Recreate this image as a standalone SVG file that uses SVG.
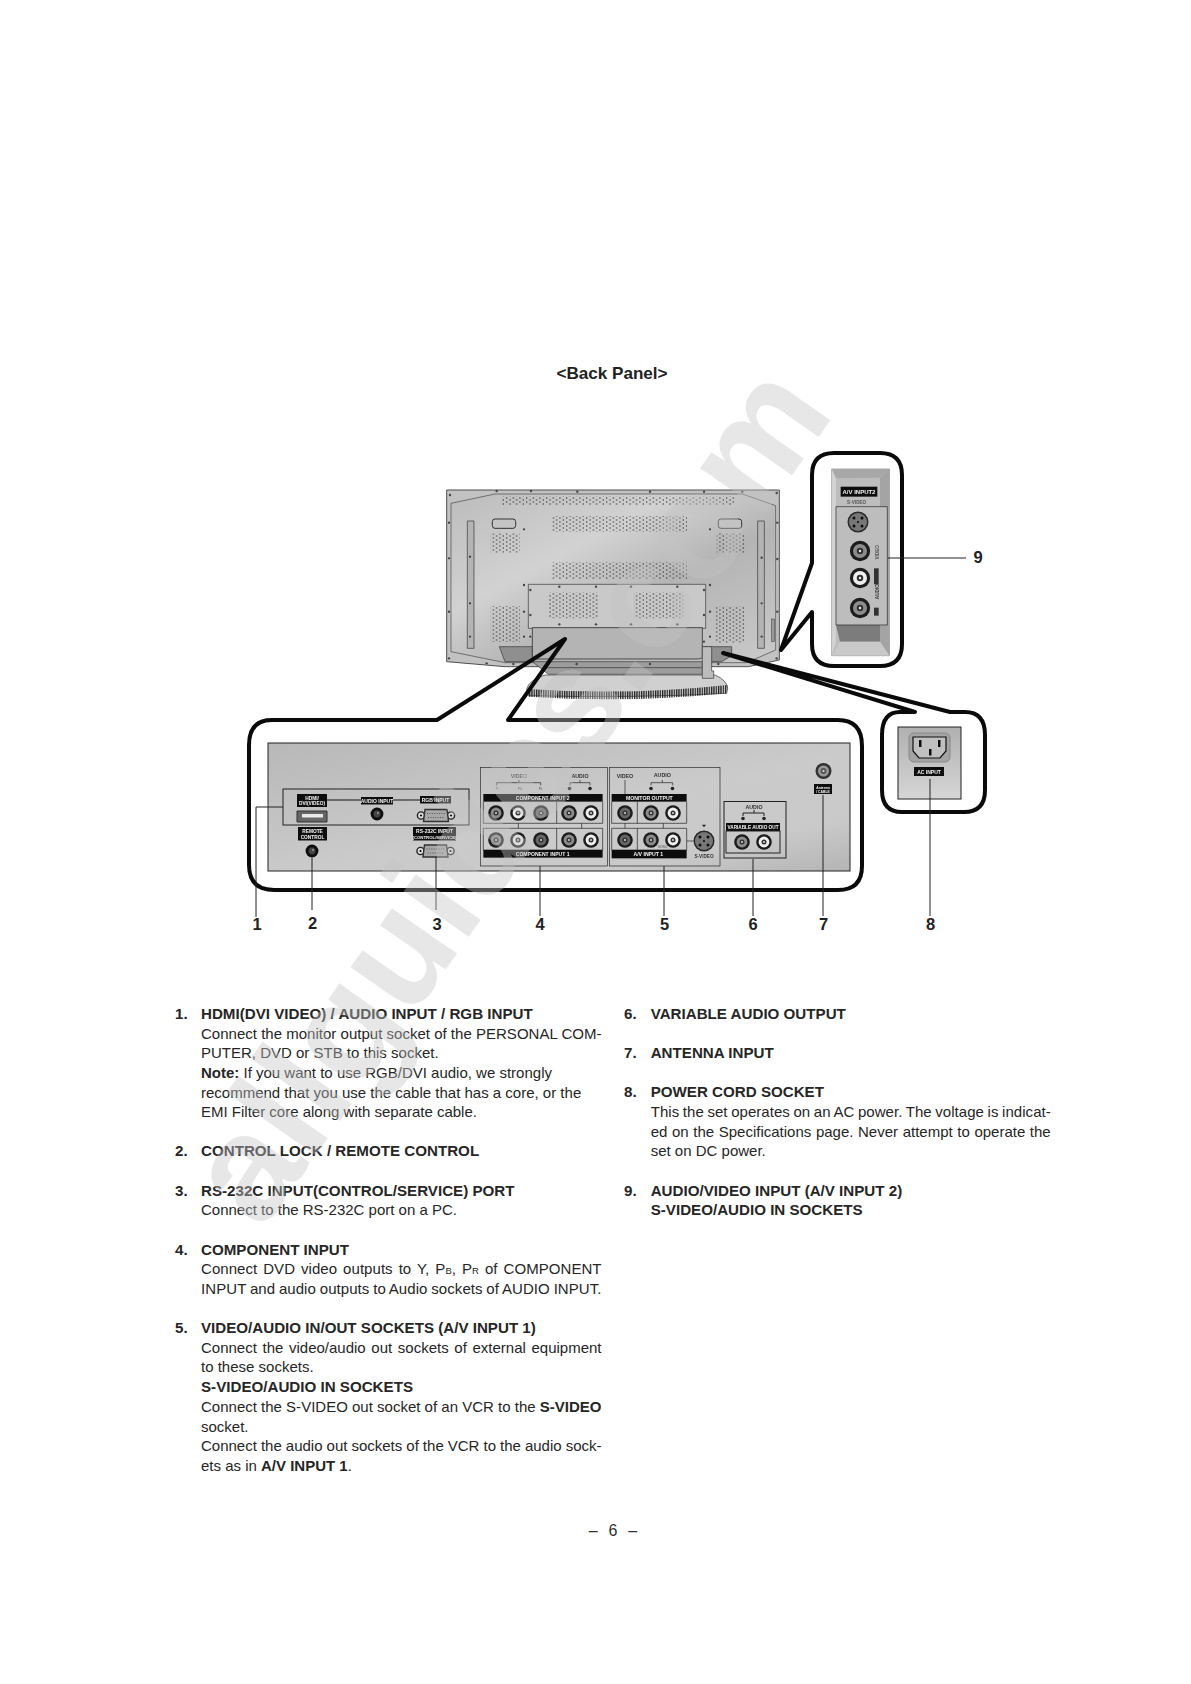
<svg xmlns="http://www.w3.org/2000/svg" width="1191" height="1684" viewBox="0 0 1191 1684">
<style>
text{font-family:"Liberation Sans",Arial,sans-serif}
.t{font-size:15px;fill:#262626}
.h{font-size:15.15px;font-weight:700;fill:#262626}
.bd{font-weight:700}
.sm{font-size:9.5px}
.num{font-size:16.5px;font-weight:700;fill:#222;text-anchor:middle}
.lb{fill:#111}
.w{fill:#f2f2f2;font-weight:700;text-anchor:middle}
.k{fill:#333;text-anchor:middle;font-weight:700}
.g{fill:#777;text-anchor:middle;font-weight:700}
.ln{fill:none;stroke:#222;stroke-width:1}
.lf{fill:none;stroke:#111;stroke-width:1.2}
.thin{fill:none;stroke:#222;stroke-width:2}
.co{fill:none;stroke:#0a0a0a;stroke-width:4;stroke-linejoin:round}
.c1{color:#8c8c8c}.c2{color:#efefef}.c3{color:#666}
.bolt{fill:#444}
.soft{filter:url(#soft)}
</style>
<defs>
<filter id="soft" x="-5%" y="-5%" width="110%" height="110%"><feGaussianBlur stdDeviation=".35"/></filter>
<linearGradient id="panelG" x1="0" y1="0" x2="1" y2="1"><stop offset="0" stop-color="#b8b8b8"/><stop offset=".55" stop-color="#cbcbcb"/><stop offset=".8" stop-color="#c9c9c9"/><stop offset="1" stop-color="#b4b4b4"/></linearGradient>
<linearGradient id="tvG" x1="0" y1="0" x2="1" y2="1"><stop offset="0" stop-color="#bcbcbc"/><stop offset=".35" stop-color="#d2d2d2"/><stop offset=".6" stop-color="#b4b4b4"/><stop offset="1" stop-color="#cacaca"/></linearGradient>
<linearGradient id="acG" x1="0" y1="0" x2="0" y2="1"><stop offset="0" stop-color="#b0b0b0"/><stop offset="1" stop-color="#d6d6d6"/></linearGradient>
<pattern id="grille" patternUnits="userSpaceOnUse" width="20" height="12"><circle cx="5" cy="3" r="2.1" fill="#333"/><circle cx="15" cy="9" r="2.1" fill="#333"/></pattern>
<pattern id="stripes" patternUnits="userSpaceOnUse" width="7" height="40"><rect width="3.8" height="40" fill="#222"/></pattern>
<g id="jack"><circle r="7.8" fill="#1c1c1c"/><circle r="5.4" fill="currentColor"/><circle r="2.5" fill="#333"/><circle r=".9" fill="#eee"/></g>
<g id="svid"><circle r="10.5" fill="#2a2a2a"/><circle r="9" fill="#777"/><circle cx="-4" cy="-4" r="1.5" fill="#111"/><circle cx="4" cy="-4" r="1.5" fill="#111"/><circle cx="-4" cy="4" r="1.5" fill="#111"/><circle cx="4" cy="4" r="1.5" fill="#111"/><rect x="-1" y="-1" width="2" height="2" fill="#222"/></g>
<g id="dsub"><circle cx="-15" r="3.6" fill="#ddd" stroke="#222" stroke-width="1.4"/><circle cx="15" r="3.6" fill="#ddd" stroke="#222" stroke-width="1.4"/><circle cx="-15" r="1.1" fill="#111"/><circle cx="15" r="1.1" fill="#111"/><path d="M-11-6H11L12.500 6H-12.500Z" fill="#a8a8a8" stroke="#333" stroke-width="1.4"/><path d="M-9-2H9M-8 2H8" stroke="#555" stroke-width="1.2" stroke-dasharray="1 1.4"/></g>
<g id="mini"><circle r="6.4" fill="#111"/><circle r="3.400" fill="#444"/><circle r="1" cx="1" cy="-1" fill="#999"/></g>
<g id="lr"><circle r="1.800" fill="#222"/></g>
</defs>
<rect width="1191" height="1684" fill="#fff"/>

<text id="title" x="612" y="379" font-size="17.1" font-weight="700" fill="#222" text-anchor="middle">&lt;Back Panel&gt;</text>

<g id="tv" class="soft" transform="translate(445 485) scale(.33333)">
<path d="M245 612Q252 585 300 570H810Q845 585 848 610L845 625Q560 640 250 632Z" fill="#d0d0d0" stroke="#333" stroke-width="2"/>
<path d="M248 612Q550 632 848 600L845 625Q550 655 252 635Z" fill="url(#stripes)"/>
<path d="M5 15H1003V525L910 545H180L5 530Z" fill="#c2c2c2" stroke="#333" stroke-width="2.500"/>
<path d="M18 55L150 27H892L992 62V495L905 533H180L18 500Z" fill="url(#tvG)" stroke="#444" stroke-width="2"/>
<rect x="168" y="35" width="700" height="25" fill="url(#grille)"/>
<rect x="322" y="93" width="404" height="47" fill="url(#grille)"/>
<rect x="322" y="232" width="404" height="50" fill="url(#grille)"/>
<rect x="137" y="145" width="87" height="58" fill="url(#grille)"/>
<rect x="815" y="145" width="85" height="58" fill="url(#grille)"/>
<rect x="137" y="363" width="88" height="108" fill="url(#grille)"/>
<rect x="812" y="365" width="87" height="108" fill="url(#grille)"/>
<rect x="142" y="102" width="70" height="28" rx="8" fill="#c4c4c4" stroke="#333" stroke-width="3"/>
<rect x="820" y="102" width="70" height="28" rx="8" fill="#c4c4c4" stroke="#333" stroke-width="3"/>
<path d="M67 108H87V490H67Z" fill="#b4b4b4" stroke="#333" stroke-width="2"/>
<path d="M938 108H958V490H938Z" fill="#b4b4b4" stroke="#333" stroke-width="2"/>
<path d="M250 298H782V430H250Z" fill="#c9c9c9" stroke="#333" stroke-width="2"/>
<rect x="310" y="323" width="150" height="77" fill="url(#grille)"/>
<rect x="567" y="323" width="148" height="77" fill="url(#grille)"/>
<path d="M163 485H262V530H180Z" fill="#8f8f8f" stroke="#333" stroke-width="2"/>
<path d="M770 485H860V512L830 530H780Z" fill="#8f8f8f" stroke="#333" stroke-width="2"/>
<path d="M262 428H772V516Q772 522 760 522H270Q262 520 262 510Z" fill="#b4b4b4" stroke="#333" stroke-width="2.500"/>
<path d="M262 530H772V568H310Z" fill="#9c9c9c" stroke="#333" stroke-width="2"/>
<path d="M300 548H770" stroke="#333" stroke-width="2"/>
<path d="M772 485H800V558H806V580H772V556Z" fill="#bcbcbc" stroke="#333" stroke-width="2"/>
<rect x="980" y="402" width="8" height="68" fill="#999" stroke="#333" stroke-width="1.500"/>
<g class="bolt"><circle cx="15" cy="30" r="3.500"/><circle cx="155" cy="18" r="3.500"/><circle cx="258" cy="18" r="3.500"/><circle cx="397" cy="20" r="3.500"/><circle cx="615" cy="20" r="3.500"/><circle cx="777" cy="20" r="3.500"/><circle cx="892" cy="20" r="3.500"/><circle cx="995" cy="24" r="3.500"/><circle cx="12" cy="113" r="3.500"/><circle cx="12" cy="220" r="3.500"/><circle cx="12" cy="380" r="3.500"/><circle cx="12" cy="520" r="3.500"/><circle cx="997" cy="113" r="3.500"/><circle cx="997" cy="222" r="3.500"/><circle cx="997" cy="380" r="3.500"/><circle cx="995" cy="520" r="3.500"/><circle cx="125" cy="535" r="3.500"/><circle cx="205" cy="537" r="3.500"/><circle cx="395" cy="537" r="3.500"/><circle cx="615" cy="537" r="3.500"/><circle cx="820" cy="537" r="3.500"/><circle cx="343" cy="305" r="3.500"/><circle cx="453" cy="305" r="3.500"/><circle cx="558" cy="305" r="3.500"/><circle cx="697" cy="305" r="3.500"/><circle cx="343" cy="418" r="3.500"/><circle cx="453" cy="418" r="3.500"/><circle cx="558" cy="418" r="3.500"/><circle cx="697" cy="418" r="3.500"/><circle cx="256" cy="315" r="3.500"/><circle cx="256" cy="390" r="3.500"/><circle cx="256" cy="455" r="3.500"/><circle cx="777" cy="315" r="3.500"/><circle cx="777" cy="390" r="3.500"/><circle cx="777" cy="470" r="3.500"/><circle cx="237" cy="300" r="3.500"/><circle cx="237" cy="380" r="3.500"/><circle cx="237" cy="455" r="3.500"/><circle cx="795" cy="300" r="3.500"/><circle cx="795" cy="380" r="3.500"/><circle cx="795" cy="455" r="3.500"/><circle cx="237" cy="133" r="3.500"/><circle cx="795" cy="133" r="3.500"/><circle cx="75" cy="215" r="3.500"/><circle cx="75" cy="355" r="3.500"/><circle cx="75" cy="455" r="3.500"/><circle cx="950" cy="218" r="3.500"/><circle cx="950" cy="355" r="3.500"/><circle cx="950" cy="455" r="3.500"/></g>
</g>

<g id="back-strip">
<rect x="268" y="743" width="582" height="128" fill="url(#panelG)" stroke="#222" stroke-width="1"/>
</g>

<g id="node-1-pc-inputs" class="soft">
<rect x="283" y="789" width="186" height="36" class="ln"/>
<rect x="297" y="794" width="30" height="13" class="lb"/>
<text x="312" y="799.500" class="w" font-size="4.800">HDMI/</text>
<text x="312" y="805" class="w" font-size="4.800">DVI(VIDEO)</text>
<path d="M327 800H361M393 800H420" class="lf"/>
<rect x="361" y="797" width="32" height="7.500" class="lb"/>
<text x="377" y="802.700" class="w" font-size="5">AUDIO INPUT</text>
<rect x="420" y="796" width="31" height="7.500" class="lb"/>
<text x="435.500" y="801.700" class="w" font-size="5">RGB INPUT</text>
<path d="M297 811H327V822H297Z" fill="#666" stroke="#333"/>
<rect x="302" y="814" width="21" height="3.500" fill="#e8e8e8"/>
<use href="#mini" x="377" y="814"/>
<use href="#dsub" x="436" y="815.500"/>
</g>

<g id="node-2-remote" class="soft">
<rect x="298" y="827" width="29" height="13.500" class="lb"/>
<text x="312.500" y="832.500" class="w" font-size="4.800">REMOTE</text>
<text x="312.500" y="838.500" class="w" font-size="4.800">CONTROL</text>
<use href="#mini" x="312" y="851"/>
</g>

<g id="node-3-rs232" class="soft">
<rect x="413" y="827" width="43" height="13.500" class="lb"/>
<text x="434.500" y="832.700" class="w" font-size="5">RS-232C INPUT</text>
<text x="434.500" y="838.500" class="w" font-size="4.300">(CONTROL/SERVICE)</text>
<use href="#dsub" x="435.500" y="851"/>
</g>

<g id="node-4-component" class="soft">
<g transform="translate(470 760) scale(.33333)">
<rect x="32" y="22" width="380" height="296" class="thin"/>
<rect x="40" y="102" width="358" height="23" class="lb"/>
<path d="M40 125V190H398V125M260 125V190M40 205H398V270H40ZM260 205V270M145 190V205M335 190V205" class="thin"/>
<rect x="40" y="270" width="358" height="23" class="lb"/>
<text x="218" y="119" class="w" font-size="15.300">COMPONENT INPUT 2</text>
<text x="218" y="287" class="w" font-size="15.300">COMPONENT INPUT 1</text>
<path d="M80 76V68H212V76M147 60V68M300 76V68H360V76M330 60V68" class="thin"/>
<text x="147" y="53" class="g" font-size="16">VIDEO</text>
<text x="330" y="53" class="k" font-size="16">AUDIO</text>
<text x="81" y="90" class="g" font-size="11">Y</text>
<text x="150" y="90" class="g" font-size="11">Pb</text>
<text x="212" y="90" class="g" font-size="11">Pr</text>
</g>
<use href="#lr" x="569.500" y="788.500"/><use href="#lr" x="590" y="788.500"/>
<use href="#jack" x="496" y="813" class="c1"/><use href="#jack" x="518" y="813" class="c2"/><use href="#jack" x="541" y="813" class="c3"/><use href="#jack" x="569" y="813" class="c1"/><use href="#jack" x="591" y="813" class="c2"/>
<use href="#jack" x="496" y="840" class="c1"/><use href="#jack" x="518" y="840" class="c2"/><use href="#jack" x="541" y="840" class="c3"/><use href="#jack" x="569" y="840" class="c1"/><use href="#jack" x="591" y="840" class="c2"/>
</g>

<g id="node-5-av-input-1" class="soft">
<g transform="translate(470 760) scale(.33333)">
<rect x="418" y="22" width="332" height="296" class="thin"/>
<rect x="425" y="102" width="225" height="23" class="lb"/>
<path d="M425 125V190H650V125M502 125V190M425 205H650V270H425ZM502 205V270M465 190V205M580 190V205M465 60V102M650 243H672M543 76V68H608V76M577 60V68" class="thin"/>
<rect x="425" y="270" width="225" height="25" class="lb"/>
<text x="538" y="119" class="w" font-size="15.500">MONITOR OUTPUT</text>
<text x="535" y="288" class="w" font-size="15.500">A/V INPUT 1</text>
<text x="465" y="53" class="k" font-size="16">VIDEO</text>
<text x="577" y="52" class="k" font-size="16">AUDIO</text>
<text x="578" y="265" class="g" font-size="9">MONO</text>
<text x="702" y="295" class="k" font-size="14">S-VIDEO</text>
<path d="M696 194H708L702 202Z" fill="#222"/>
</g>
<use href="#lr" x="651" y="788.500"/><use href="#lr" x="672.500" y="788.500"/>
<use href="#jack" x="625" y="813" class="c3"/><use href="#jack" x="651" y="813" class="c1"/><use href="#jack" x="673" y="813" class="c2"/>
<use href="#jack" x="625" y="840" class="c3"/><use href="#jack" x="651" y="840" class="c1"/><use href="#jack" x="673" y="840" class="c2"/>
<use href="#svid" x="704" y="841"/>
</g>

<g id="node-6-variable-audio" class="soft">
<rect x="724" y="801.500" width="62" height="56.500" class="ln"/>
<rect x="726" y="823" width="54" height="8" class="lb"/>
<rect x="726" y="831" width="54" height="22" class="ln"/>
<text x="753" y="829" class="w" font-size="4.700">VARIABLE AUDIO OUT</text>
<text x="754" y="809" class="k" font-size="5.300">AUDIO</text>
<path d="M743 816V813H764V816M754 810V813" class="ln"/>
<use href="#lr" x="743" y="818.500"/><use href="#lr" x="764" y="818.500"/>
<use href="#jack" x="742" y="842" class="c1"/><use href="#jack" x="764" y="842" class="c2"/>
</g>

<g id="node-7-antenna" class="soft">
<circle cx="823.500" cy="771" r="8" fill="#333"/><circle cx="823.500" cy="771" r="5.500" fill="#999"/><circle cx="823.500" cy="771" r="3" fill="#555"/><circle cx="823.500" cy="771" r="1.100" fill="#ddd"/>
<rect x="814" y="784" width="18" height="10" class="lb"/>
<text x="823" y="788.500" class="w" font-size="3.400">Antenna</text>
<text x="823" y="792.800" class="w" font-size="3.400">/ CABLE</text>
</g>

<g id="node-8-ac" class="soft">
<rect x="898" y="727" width="63" height="72" fill="url(#acG)" stroke="#222"/>
<rect x="909" y="733" width="41" height="29" rx="5" fill="#a4a4a4" stroke="#888"/>
<path d="M913 737H946V751L940 758H919L913 751Z" fill="#c0c0c0" stroke="#111" stroke-width="1.200"/>
<rect x="919" y="740" width="2.500" height="7" fill="#111"/><rect x="938" y="740" width="2.500" height="7" fill="#111"/><rect x="929" y="749" width="2.500" height="6.500" fill="#111"/>
<rect x="914" y="767" width="30" height="9" class="lb"/>
<text x="929" y="773.500" class="w" font-size="5">AC INPUT</text>
</g>

<g id="node-9-av-input-2" class="soft">
<g transform="translate(800 445) scale(.33333)">
<path d="M95 72H268V632H95Z" fill="#bdbdbd" stroke="#555" stroke-width="1.500"/>
<path d="M95 72L268 72L240 98L105 100Z" fill="#a8a8a8"/>
<path d="M268 72V632L240 590V98Z" fill="#a4a4a4"/>
<path d="M95 72L108 100V590L95 632Z" fill="#d2d2d2"/>
<path d="M108 540H240V590H120Z" fill="#7c7c7c"/>
<path d="M120 590H240L268 632L95 632Z" fill="#c9c9c9"/>
<path d="M108 185H262V540H108Z" fill="#bdbdbd" stroke="#222" stroke-width="2"/>
<rect x="122" y="125" width="110" height="30" fill="#111"/>
<text x="177" y="146" class="w" font-size="18">A/V INPUT2</text>
<text x="170" y="178" class="k" font-size="14" style="fill:#555">S-VIDEO</text>
<text transform="translate(236 322) rotate(-90)" class="k" font-size="14" style="fill:#555">VIDEO</text>
<text transform="translate(236 440) rotate(-90)" class="k" font-size="14" style="fill:#333">AUDIO</text>
<rect x="222" y="370" width="14" height="48" fill="#333"/>
<rect x="222" y="488" width="14" height="24" fill="#333"/>
</g>
<use href="#svid" x="858" y="522"/>
<g transform="translate(860 551) scale(1.300)"><use href="#jack" class="c1"/></g>
<g transform="translate(860 578) scale(1.300)"><use href="#jack" class="c2"/></g>
<g transform="translate(860 608) scale(1.300)"><use href="#jack" class="c1"/></g>
</g>

<g id="connectors">
<path class="co" d="M565 639L437 720H272Q249 720 249 745V865Q249 890 274 890H838Q862 890 862 866V746Q862 720 838 720H508Z"/>
<path class="co" d="M723 653L915 712H900Q882 712 882 735V790Q882 812 902 812H964Q985 812 985 790V735Q985 712 965 712H950Z"/>
<path class="co" d="M781 650L812 563V475Q812 453 834 453H880Q902 453 902 475V644Q902 666 880 666H834Q812 666 812 644V612Z"/>
<path class="ln" d="M283 807H256V917M312 858V910M436 857V910M540 866V916M664 866V916M753 859V916M823 795V916M930 779V916M888 558H966"/>
</g>

<g id="numbers">
<text x="257" y="930" class="num">1</text>
<text x="312.500" y="929" class="num">2</text>
<text x="437" y="930" class="num">3</text>
<text x="540" y="930" class="num">4</text>
<text x="664.500" y="930" class="num">5</text>
<text x="753" y="930" class="num">6</text>
<text x="823.500" y="930" class="num">7</text>
<text x="930.500" y="930" class="num">8</text>
<text x="978" y="563" class="num">9</text>
</g>

<g id="notes-left">
<text x="175" y="1019.300" class="h">1.</text><text x="201" y="1019.300" class="h">HDMI(DVI VIDEO) / AUDIO INPUT / RGB INPUT</text>
<text x="201" y="1039" class="t" textLength="400.500">Connect the monitor output socket of the PERSONAL COM-</text>
<text x="201" y="1057.700" class="t">PUTER, DVD or STB to this socket.</text>
<text x="201" y="1078" class="t"><tspan class="bd">Note:</tspan> If you want to use RGB/DVI audio, we strongly</text>
<text x="201" y="1097.700" class="t">recommend that you use the cable that has a core, or the</text>
<text x="201" y="1117.300" class="t">EMI Filter core along with separate cable.</text>
<text x="175" y="1155.500" class="h">2.</text><text x="201" y="1155.500" class="h">CONTROL LOCK / REMOTE CONTROL</text>
<text x="175" y="1195.700" class="h">3.</text><text x="201" y="1195.700" class="h">RS-232C INPUT(CONTROL/SERVICE) PORT</text>
<text x="201" y="1215.300" class="t">Connect to the RS-232C port on a PC.</text>
<text x="175" y="1255" class="h">4.</text><text x="201" y="1255" class="h">COMPONENT INPUT</text>
<text x="201" y="1274" class="t" word-spacing="1.800" textLength="400.500">Connect DVD video outputs to Y, P<tspan class="sm">B</tspan>, P<tspan class="sm">R</tspan> of COMPONENT</text>
<text x="201" y="1294.300" class="t" word-spacing="-.450" textLength="400.500">INPUT and audio outputs to Audio sockets of AUDIO INPUT.</text>
<text x="175" y="1333" class="h">5.</text><text x="201" y="1333" class="h">VIDEO/AUDIO IN/OUT SOCKETS (A/V INPUT 1)</text>
<text x="201" y="1353.300" class="t" word-spacing="1.480" textLength="400.500">Connect the video/audio out sockets of external equipment</text>
<text x="201" y="1372" class="t">to these sockets.</text>
<text x="201" y="1392.300" class="h">S-VIDEO/AUDIO IN SOCKETS</text>
<text x="201" y="1412" class="t" word-spacing="0" textLength="400.500">Connect the S-VIDEO out socket of an VCR to the <tspan class="bd">S-VIDEO</tspan></text>
<text x="201" y="1431.700" class="t">socket.</text>
<text x="201" y="1451.300" class="t" word-spacing="-.150" textLength="400.500">Connect the audio out sockets of the VCR to the audio sock-</text>
<text x="201" y="1471" class="t">ets as in <tspan class="bd">A/V INPUT 1</tspan>.</text>
</g>

<g id="notes-right">
<text x="624" y="1019.300" class="h">6.</text><text x="650.700" y="1019.300" class="h">VARIABLE AUDIO OUTPUT</text>
<text x="624" y="1058.300" class="h">7.</text><text x="650.700" y="1058.300" class="h">ANTENNA INPUT</text>
<text x="624" y="1096.500" class="h">8.</text><text x="650.700" y="1096.500" class="h">POWER CORD SOCKET</text>
<text x="650.700" y="1117" class="t" word-spacing="-.550" textLength="400">This the set operates on an AC power. The voltage is indicat-</text>
<text x="650.700" y="1136.700" class="t" word-spacing=".440" textLength="400">ed on the Specifications page. Never attempt to operate the</text>
<text x="650.700" y="1155.700" class="t">set on DC power.</text>
<text x="624" y="1196" class="h">9.</text><text x="650.700" y="1196" class="h">AUDIO/VIDEO INPUT (A/V INPUT 2)</text>
<text x="650.700" y="1215" class="h">S-VIDEO/AUDIO IN SOCKETS</text>
</g>

<text id="page-number" x="613" y="1536" font-size="16" fill="#333" text-anchor="middle" word-spacing="6.350">– 6 –</text>

<text id="watermark" transform="translate(262 1232) rotate(-55)" font-size="150" font-weight="700" fill="#c3c3c3" fill-opacity=".4">allguides.com</text>
</svg>
